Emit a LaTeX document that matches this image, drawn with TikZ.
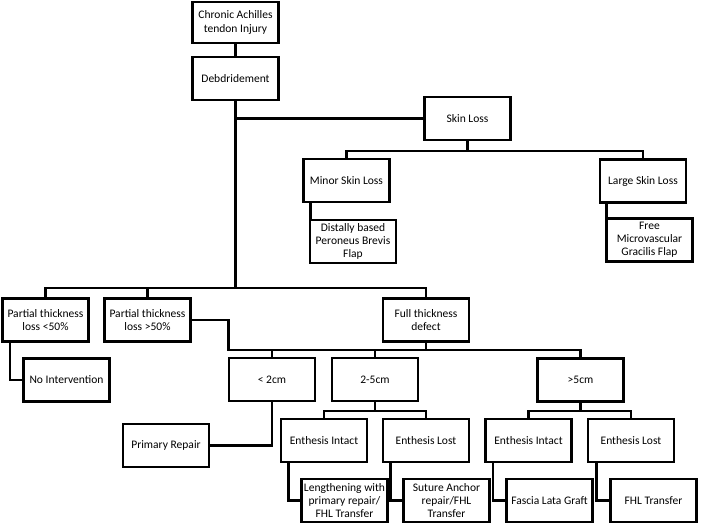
\documentclass[tikz,border=0pt]{standalone}
\usepackage{fontspec}
\setmainfont{Carlito}
\usepackage{tikz}
\usetikzlibrary{positioning,calc}
\tikzset{
  atnode/.style={
    draw, line width=2pt, minimum width=2.15cm, minimum height=1.075cm,
    inner sep=1pt, align=center, font=\fontsize{8.2}{9.3}\selectfont
  },
  atlink/.style={line width=1.8pt, black},
}
\begin{document}
\begin{tikzpicture}[x=0.025cm, y=-0.025cm]
  \useasboundingbox (0,0) rectangle (719,528);
  % top of the tree
  \node[atnode, minimum height=1.025cm] (chronic) at (235.5,22.5) {Chronic Achilles\\tendon Injury};
  \node[atnode] (debrid) at (235.5,78.5) {Debdridement};
  % skin branch
  \node[atnode] (skin) at (467.5,118.5) {Skin Loss};
  \node[atnode] (minor) at (346.5,180.5) {Minor Skin Loss};
  \node[atnode] (large) at (643,181) {Large Skin Loss};
  \node[atnode] (distal) at (353,241.5) {Distally based\\Peroneus Brevis\\Flap};
  \node[atnode] (free) at (649.5,240) {Free\\Microvascular\\Gracilis Flap};
  % tendon branch
  \node[atnode] (pl50) at (45.5,320) {Partial thickness\\loss <50\%};
  \node[atnode] (pg50) at (147.5,320) {Partial thickness\\loss >50\%};
  \node[atnode] (full) at (426,320) {Full thickness\\defect};
  \node[atnode] (noint) at (66.5,380) {No Intervention};
  \node[atnode] (lt2) at (272,379.5) {< 2cm};
  \node[atnode] (c25) at (375,379.5) {2-5cm};
  \node[atnode] (gt5) at (580.5,380) {>5cm};
  \node[atnode] (prim) at (166,445.5) {Primary Repair};
  \node[atnode] (ei1) at (324,440.5) {Enthesis Intact};
  \node[atnode] (el1) at (426,440.5) {Enthesis Lost};
  \node[atnode] (ei2) at (528.5,440.5) {Enthesis Intact};
  \node[atnode] (el2) at (631,440.5) {Enthesis Lost};
  \node[atnode] (leng) at (344.5,500.5) {Lengthening with\\primary repair/\\FHL Transfer};
  \node[atnode] (sut) at (446.5,500.5) {Suture Anchor\\repair/FHL\\Transfer};
  \node[atnode] (fas) at (549.5,500.5) {Fascia Lata Graft};
  \node[atnode] (fhl) at (653.5,500.5) {FHL Transfer};

  % bar points
  \coordinate (trunk) at (235.5,288);
  \coordinate (skinbar) at (467.5,151);
  \coordinate (fullbar) at (426,350);
  \coordinate (c25bar) at (375,411);
  \coordinate (gt5bar) at (580.5,411);

  % connectors
  \draw[atlink] (chronic) -- (debrid);
  \draw[atlink] (debrid.south) -- (trunk);
  \draw[atlink] (debrid.south |- skin.west) -- (skin.west);
  \draw[atlink] (skin.south) -- (skinbar);
  \draw[atlink] (minor.north) |- (skinbar) -| (large.north);
  \draw[atlink] ([xshift=0.05cm]distal.north west) -- ([xshift=0.05cm]distal.north west |- minor.south);
  \draw[atlink] ([xshift=0.03cm]free.north west) -- ([xshift=0.03cm]free.north west |- large.south);
  \draw[atlink] (pl50.north) |- (trunk) -| (full.north);
  \draw[atlink] (pg50.north) -- (pg50.north |- trunk);
  \draw[atlink] ([xshift=0.225cm]pl50.south west) |- (noint.west);
  \draw[atlink] (pg50.east) -| ([xshift=0.02cm]lt2.north west |- fullbar) -- (fullbar);
  \draw[atlink] (full.south) -- (fullbar) -| (gt5.north);
  \draw[atlink] (lt2.north) -- (lt2.north |- fullbar);
  \draw[atlink] (c25.north) -- (c25.north |- fullbar);
  \draw[atlink] (lt2.south) |- (prim.east);
  \draw[atlink] (c25.south) -- (c25bar);
  \draw[atlink] (ei1.north) |- (c25bar) -| (el1.north);
  \draw[atlink] (gt5.south) -- (gt5bar);
  \draw[atlink] (ei2.north) |- (gt5bar) -| (el2.north);
  \draw[atlink] ([xshift=0.225cm]ei1.south west) |- (leng.west);
  \draw[atlink] ([xshift=0.225cm]el1.south west) |- (sut.west);
  \draw[atlink] ([xshift=0.225cm]ei2.south west) |- (fas.west);
  \draw[atlink] ([xshift=0.25cm]el2.south west) |- (fhl.west);
\end{tikzpicture}
\end{document}
